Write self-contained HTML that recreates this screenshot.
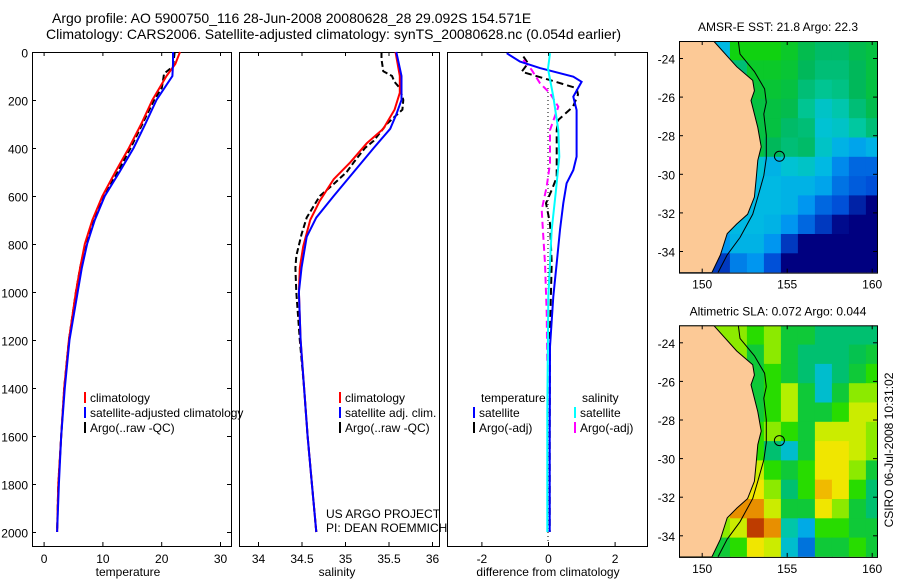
<!DOCTYPE html>
<html><head><meta charset="utf-8"><style>
html,body{margin:0;padding:0;background:#fff}
svg{display:block;font-family:"Liberation Sans",sans-serif}
</style></head><body>
<svg id="fig" width="900" height="580" viewBox="0 0 900 580" xmlns="http://www.w3.org/2000/svg">
<rect width="900" height="580" fill="#fff"/>
<text x="52" y="23" font-size="14">Argo profile: AO 5900750_116 28-Jun-2008 20080628_28 29.092S 154.571E</text>
<text x="46" y="39" font-size="14">Climatology: CARS2006. Satellite-adjusted climatology: synTS_20080628.nc (0.054d earlier)</text>
<g id="g"></g>
</svg>
<script>
// ---------- data ----------
const depthsClimT=[0,50,100,200,300,400,500,600,700,800,900,1000,1200,1400,1600,1800,2000];
const tempClim=[23.2,22.4,20.9,18.5,16.6,14.5,12.2,10.0,8.3,7.0,6.2,5.5,4.3,3.5,3.0,2.5,2.3];
const tempSat=[22.0,22.0,21.9,19.2,17.3,15.3,12.9,10.4,8.7,7.4,6.5,5.8,4.4,3.6,3.0,2.6,2.3];
const depthsArgoT=[0,60,90,150,200,300,400,500,600,700,800,900,1000,1200,1400,1600,1800,2000];
const tempArgo=[22.3,22.0,20.5,20.1,18.8,16.8,14.8,12.6,10.3,8.4,7.1,6.2,5.5,4.3,3.5,3.0,2.5,2.3];

const depthsClimS=[0,100,170,240,320,380,460,530,620,700,810,900,1000,1200,1400,1600,1800,2000];
const salClim=[35.58,35.63,35.63,35.57,35.44,35.25,35.06,34.87,34.71,34.60,34.52,34.48,34.47,34.49,34.53,34.57,34.62,34.67];
const depthsSatS=[0,100,200,260,320,400,500,600,690,770,900,1000,1200,1400,1600,1800,2000];
const salSat=[35.59,35.65,35.65,35.59,35.52,35.33,35.10,34.87,34.67,34.56,34.50,34.47,34.49,34.53,34.57,34.62,34.67];
const depthsArgoS=[0,30,80,100,125,150,200,240,300,370,400,460,500,550,600,690,760,850,900,1000,1200,1400,1600,1800,2000];
const salArgo=[35.42,35.42,35.44,35.54,35.57,35.63,35.67,35.66,35.48,35.33,35.23,35.10,35.02,34.87,34.71,34.56,34.50,34.44,34.43,34.44,34.48,34.53,34.57,34.62,34.67];

const depthsDT=[5,40,67,103,124,186,242,311,436,492,547,630,741,880,1019,1228,1600,2000];
const diffTSat=[-1.24,-0.84,-0.24,0.76,1.01,0.76,0.86,0.86,0.86,0.76,0.56,0.46,0.36,0.26,0.16,0.06,0.05,0.05];
const depthsDTA=[19,47,82,117,151,178,228,283,325,522,575,630,714,880,1158,1600,2000];
const diffTArgo=[-0.74,-0.6,-0.79,0.06,0.86,0.9,0.75,0.31,0.26,0.26,0.11,-0.06,0.06,0.11,0.06,0.05,0.05];
const depthsDS=[5,70,186,325,436,575,741,1019,1500,2000];
const diffSSat=[0.06,0.0,0.16,0.31,0.34,0.24,0.11,0.01,-0.02,-0.02];
const depthsDSA=[33,75,130,172,228,325,464,561,658,769,880,1089,1300];
const diffSArgo=[-0.74,-0.49,-0.24,0.06,0.31,0.06,0.06,-0.04,-0.19,-0.14,-0.09,-0.04,-0.02];

const depthTicks=[0,200,400,600,800,1000,1200,1400,1600,1800,2000];
const tempTicks=[0,10,20,30];
const salTicks=[34,34.5,35,35.5,36];
const salTickLabels=["34","34.5","35","35.5","36"];
const diffTicks=[-2,0,2];

// map grids: 12 rows (lat -23.12 down, 1 deg) x 12 cols (lon 148.66 east, 1 deg)
const sstGrid=[
[21,21,21.3,23,23,23,22.8,22.5,22.3,22.3,22.5,22.6],
[21,21,20.5,22.2,22.8,22.8,22.7,22.4,22.2,22.2,22.4,22.6],
[21,21,21,21.8,22.7,22.7,22.6,22.2,22.0,22.1,22.4,22.6],
[21,21,21,21.5,22.6,22.6,22.5,22.0,21.6,21.8,22.2,22.5],
[21,21,21,21.8,22.6,22.6,22.3,22.2,21.5,21.6,21.9,22.2],
[21,21,21,22.3,22.6,22.4,22.2,22.3,21.6,21.2,21.0,21.2],
[21,21,21,22.0,21.5,21.2,21.5,21.6,21.3,20.7,20.4,20.4],
[21,21,21,21.5,21.3,21.3,21.2,21.2,21.0,20.5,20.3,20.2],
[21,21,21,21.3,21.3,21.3,21.2,20.8,20.4,20.2,19.8,19.5],
[21,21,21.0,21.3,21.3,21.2,20.8,20.4,20.0,19.6,19.5,19.5],
[21,21,20.8,21.2,21.2,20.8,20.0,19.5,19.5,19.5,19.5,19.5],
[21,20.3,20.0,20.6,20.8,20.2,19.5,19.5,19.5,19.5,19.5,19.5]];
const slaGrid=[
[0.1,0.1,0.1,0.1,0.05,0.1,0.0,0.0,-0.05,-0.05,-0.05,-0.05],
[0.1,0.1,0.1,0.1,0.0,0.1,0.0,-0.05,-0.05,-0.05,-0.02,0.0],
[0.1,0.1,0.1,0.1,0.0,0.05,0.0,-0.05,-0.15,-0.05,0.0,0.05],
[0.1,0.1,0.1,0.1,0.0,0.05,0.12,0.0,-0.15,0.0,0.1,0.1],
[0.1,0.1,0.1,0.1,0.0,0.05,0.12,0.0,0.0,0.05,0.15,0.15],
[0.1,0.1,0.1,0.1,0.05,0.1,0.05,0.0,0.15,0.15,0.15,0.1],
[0.1,0.1,0.1,0.1,0.05,-0.05,-0.15,0.0,0.2,0.2,0.15,0.1],
[0.1,0.1,0.1,0.15,0.15,0.05,0.0,0.05,0.2,0.2,0.1,0.0],
[0.1,0.1,0.1,0.2,0.2,0.1,-0.05,0.05,0.25,0.2,0.05,-0.05],
[0.1,0.1,0.15,0.3,0.3,0.15,0.0,0.0,0.2,0.1,0.0,-0.05],
[0.1,0.1,0.1,0.15,0.4,0.3,-0.1,-0.2,0.05,0.05,0.0,0.0],
[0.1,0.05,0.0,0.05,0.2,0.15,-0.15,-0.25,0.0,0.0,0.05,0.0]];
const coastLon=[150.7,152.06,153.0,153.1,152.9,153.1,153.3,153.5,153.3,153.2,153.1,152.7,152.06,151.5,151.1,150.6];
const coastLat=[-23.12,-24.45,-25.16,-25.7,-26.2,-26.9,-27.6,-28.6,-29.3,-30.3,-31.2,-32.1,-32.6,-33.1,-34.2,-35.12];
const isoLon=[152.15,152.25,153.1,153.7,153.8,153.65,153.8,153.8,153.65,153.3,153.0,152.25,151.5,150.96];
const isoLat=[-23.12,-23.8,-24.7,-25.6,-26.3,-26.9,-28,-29.2,-30.1,-31.2,-32.1,-33.3,-34.2,-35.12];
const floatLon=154.571, floatLat=-29.092;
const latTicks=[-24,-26,-28,-30,-32,-34];
const lonTicks=[150,155,160];

// ---------- helpers ----------
const NS="http://www.w3.org/2000/svg";
const G=document.getElementById('g');
function mk(tag,attrs,parent){const e=document.createElementNS(NS,tag);for(const k in attrs)e.setAttribute(k,attrs[k]);(parent||G).appendChild(e);return e;}
const yD=d=>52+0.24*d;
const TOP=52,BOT=546;
const xT=t=>43.6+5.88*t;
const xS=s=>258+87*(s-34);
const xD=v=>548+33.3*v;
function line(xs,ds,fx,color,w,dash,name){
  const pts=xs.map((v,i)=>fx(v).toFixed(1)+','+yD(ds[i]).toFixed(1)).join(' ');
  const p=mk('polyline',{points:pts,fill:'none',stroke:color,'stroke-width':w});
  if(dash)p.setAttribute('stroke-dasharray',dash);
  
  
}
function txt(x,y,s,size,anchor,name){const t=mk('text',{x:x,y:y,'font-size':size,'text-anchor':anchor||'start'});t.textContent=s;
  
  return t;}
function panel(x0,x1,name){
  const r=mk('rect',{x:x0+0.5,y:TOP+0.5,width:x1-x0,height:BOT-TOP,fill:'none',stroke:'#000','stroke-width':1});
  
  
}
// ---------- panel 1 ----------
panel(32,231,'temperature-panel');
depthTicks.forEach(d=>{const y=yD(d)+0.5;
  mk('line',{x1:32,y1:y,x2:36,y2:y,stroke:'#000'});mk('line',{x1:231,y1:y,x2:227,y2:y,stroke:'#000'});
  txt(28,y+5,String(d),12,'end','depth-tick-label');});
tempTicks.forEach(t=>{const x=xT(t)+0.5;
  mk('line',{x1:x,y1:TOP,x2:x,y2:TOP+4,stroke:'#000'});mk('line',{x1:x,y1:BOT,x2:x,y2:BOT-4,stroke:'#000'});
  txt(x,563,String(t),12,'middle','temperature-tick-label');});
txt(128,576,'temperature',12,'middle','x-axis-title-temperature');
line(tempArgo,depthsArgoT,xT,'#000',2,'6,3','temp-argo-line');
line(tempClim,depthsClimT,xT,'#f00',2,null,'temp-climatology-line');
line(tempSat,depthsClimT,xT,'#00f',2,null,'temp-satellite-line');
// ---------- panel 2 ----------
panel(239,439,'salinity-panel');
salTicks.forEach((s,i)=>{const x=xS(s)+0.5;
  mk('line',{x1:x,y1:TOP,x2:x,y2:TOP+4,stroke:'#000'});mk('line',{x1:x,y1:BOT,x2:x,y2:BOT-4,stroke:'#000'});
  txt(x,563,salTickLabels[i],12,'middle','salinity-tick-label');});
txt(337,576,'salinity',12,'middle','x-axis-title-salinity');
line(salArgo,depthsArgoS,xS,'#000',2,'6,3','salinity-argo-line');
line(salClim,depthsClimS,xS,'#f00',2,null,'salinity-climatology-line');
line(salSat,depthsSatS,xS,'#00f',2,null,'salinity-satellite-line');
// ---------- panel 3 ----------
panel(447,647,'difference-panel');
diffTicks.forEach(v=>{const x=xD(v)+0.5;
  mk('line',{x1:x,y1:TOP,x2:x,y2:TOP+4,stroke:'#000'});mk('line',{x1:x,y1:BOT,x2:x,y2:BOT-4,stroke:'#000'});
  txt(x,563,v<0?'-'+Math.abs(v):String(v),12,'middle','difference-tick-label');});
txt(548,576,'difference from climatology',12,'middle','x-axis-title-difference');
const zl=mk('line',{x1:xD(0),y1:yD(150),x2:xD(0),y2:yD(2050),stroke:'#000','stroke-width':1,'stroke-dasharray':'1,3'});


line(diffTArgo,depthsDTA,xD,'#000',2,'7,4','diff-temp-argo-line');
line(diffSArgo,depthsDSA,xD,'#f0f',2,'7,4','diff-salinity-argo-line');
line(diffTSat,depthsDT,xD,'#00f',2,null,'diff-temp-satellite-line');
line(diffSSat,depthsDS,xD,'#0ff',2,null,'diff-salinity-satellite-line');
// ---------- legends ----------
function leg(x,y,color,label,name){
  const m=mk('rect',{x:x,y:y-10,width:2,height:11,fill:color});
  
  
  txt(x+6,y,label,12,'start',name);
}
leg(84,402,'#f00','climatology','legend-climatology');
leg(84,417,'#00f','satellite-adjusted climatology','legend-satellite-adjusted');
leg(84,432,'#000','Argo(..raw -QC)','legend-argo');
leg(339,402,'#f00','climatology','legend2-climatology');
leg(339,417,'#00f','satellite adj. clim.','legend2-satellite');
leg(339,432,'#000','Argo(..raw -QC)','legend2-argo');
txt(481,402,'temperature',12,'start','legend3-temperature-header');
txt(582,402,'salinity',12,'start','legend3-salinity-header');
leg(473,417,'#00f','satellite','legend3-temp-satellite');
leg(473,432,'#000','Argo(-adj)','legend3-temp-argo');
leg(574,417,'#0ff','satellite','legend3-sal-satellite');
leg(574,432,'#f0f','Argo(-adj)','legend3-sal-argo');
txt(326,518,'US ARGO PROJECT',12,'start','credit-project');
txt(326,532,'PI: DEAN ROEMMICH',12,'start','credit-pi');
// ---------- maps ----------
const sstStops=[[19.5,[0,0,128]],[20.2,[0,80,216]],[20.8,[0,150,240]],[21.4,[0,192,224]],[21.9,[0,200,160]],[22.4,[0,184,90]],[23.0,[16,210,16]]];
const slaStops=[[-0.3,[0,60,210]],[-0.2,[0,170,230]],[-0.12,[0,200,190]],[-0.03,[0,190,90]],[0.05,[40,220,0]],[0.12,[180,240,0]],[0.2,[240,230,0]],[0.28,[240,160,0]],[0.4,[190,60,0]]];
function cmap(stops,v){
  if(v<=stops[0][0])return 'rgb('+stops[0][1]+')';
  for(let i=1;i<stops.length;i++){if(v<=stops[i][0]){const a=stops[i-1],b=stops[i],f=(v-a[0])/(b[0]-a[0]);
    return 'rgb('+a[1].map((c,k)=>Math.round(c+f*(b[1][k]-c))).join(',')+')';}}
  return 'rgb('+stops[stops.length-1][1]+')';
}
function drawMap(y0,lat24y,grid,stops,title,name){
  const X=lon=>701.7+17*(lon-150), Y=lat=>lat24y+19.3*(-24-lat);
  const L=679,R=877,T=Y(-23.12),B=Y(-35.12);
  const grp=mk('g',{});
  
  
  const cp=mk('clipPath',{id:name+'-clip'},grp);mk('rect',{x:L,y:T,width:R-L,height:B-T},cp);
  const inner=mk('g',{'clip-path':'url(#'+name+'-clip)'},grp);
  grid.forEach((row,r)=>row.forEach((v,c)=>{
    const x=X(148.66+c),y=Y(-23.12-r);
    const cell=mk('rect',{x:x.toFixed(1),y:y.toFixed(1),width:17.6,height:19.9,fill:cmap(stops,v)},inner);
    
    
  }));
  const pts=coastLon.map((lo,i)=>X(lo).toFixed(1)+','+Y(coastLat[i]).toFixed(1)).concat([L+','+B,L+','+T]).join(' ');
  const land=mk('polygon',{points:pts,fill:'#fcc996',stroke:'#000','stroke-width':1},inner);
  
  
  const iso=mk('polyline',{points:isoLon.map((lo,i)=>X(lo).toFixed(1)+','+Y(isoLat[i]).toFixed(1)).join(' '),fill:'none',stroke:'#000','stroke-width':1},inner);
  
  
  const fl=mk('circle',{cx:X(floatLon),cy:Y(floatLat),r:5,fill:'none',stroke:'#000','stroke-width':1},grp);
  
  
  const fr=mk('rect',{x:L+0.5,y:T+0.5,width:R-L,height:B-T,fill:'none',stroke:'#000'},grp);
  
  
  latTicks.forEach(la=>{const y=Y(la)+0.5;mk('line',{x1:L,y1:y,x2:L+4,y2:y,stroke:'#000'},grp);mk('line',{x1:R,y1:y,x2:R-4,y2:y,stroke:'#000'},grp);
    txt(675,y+5,'-'+Math.abs(la),12,'end','map-lat-tick-label');});
  lonTicks.forEach(lo=>{const x=X(lo)+0.5;mk('line',{x1:x,y1:T,x2:x,y2:T+4,stroke:'#000'},grp);mk('line',{x1:x,y1:B,x2:x,y2:B-4,stroke:'#000'},grp);
    txt(x,B+16,String(lo),12,'middle','map-lon-tick-label');});
  txt((L+R)/2,T-10,title,12,'middle',name+'-title');
}
drawMap(0,58,sstGrid,sstStops,'AMSR-E SST: 21.8 Argo: 22.3','sst-map');
drawMap(0,342.3,slaGrid,slaStops,'Altimetric SLA: 0.072 Argo: 0.044','sla-map');
const ts=txt(0,0,'CSIRO 06-Jul-2008 10:31:02',12,'middle','timestamp');
ts.setAttribute('transform','translate(893,450) rotate(-90)');
</script>
</body></html>
